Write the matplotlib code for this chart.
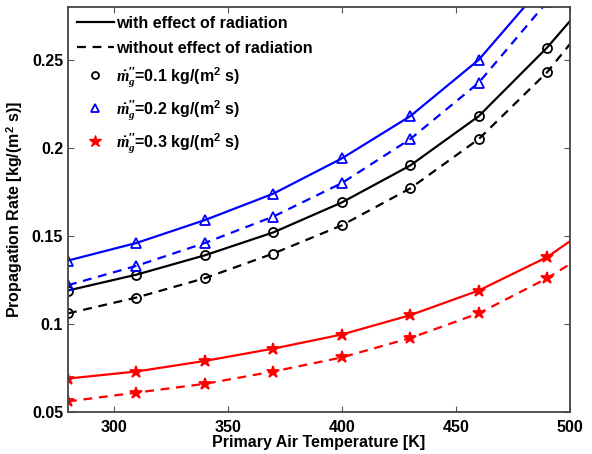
import matplotlib.pyplot as plt
import numpy as np

plt.rcParams['font.family'] = ['Liberation Sans', 'DejaVu Sans']
plt.rcParams['font.weight'] = 'bold'
plt.rcParams['mathtext.fontset'] = 'custom'
plt.rcParams['mathtext.it'] = 'Liberation Serif:italic'
plt.rcParams['mathtext.rm'] = 'Liberation Sans:bold'

temp = [280, 310, 340, 370, 400, 430, 460, 490, 500]

# propagation rate, with / without effect of radiation
black_rad = [0.119, 0.128, 0.139, 0.152, 0.169, 0.190, 0.218, 0.257, 0.272]
black_norad = [0.106, 0.115, 0.126, 0.140, 0.156, 0.177, 0.205, 0.243, 0.259]
blue_rad = [0.136, 0.146, 0.159, 0.174, 0.194, 0.218, 0.250, 0.295, 0.315]
blue_norad = [0.122, 0.133, 0.146, 0.161, 0.180, 0.205, 0.237, 0.283, 0.300]
red_rad = [0.069, 0.073, 0.079, 0.086, 0.094, 0.105, 0.119, 0.138, 0.147]
red_norad = [0.056, 0.061, 0.066, 0.073, 0.081, 0.092, 0.106, 0.126, 0.134]

mlabels = [r'$\dot{m}_g^{\prime\prime}$=0.1 kg/(m$^2$ s)',
           r'$\dot{m}_g^{\prime\prime}$=0.2 kg/(m$^2$ s)',
           r'$\dot{m}_g^{\prime\prime}$=0.3 kg/(m$^2$ s)']

fig = plt.figure(figsize=(5.92, 4.54), dpi=100)
ax = fig.add_axes([68 / 592, 42 / 454, 502 / 592, 405 / 454])

marks = list(range(8))
series = [
    (black_rad, black_norad, 'black', 'o', 'none'),
    (blue_rad, blue_norad, 'blue', '^', 'none'),
    (red_rad, red_norad, 'red', '*', 'red'),
]
for rad, norad, c, m, fc in series:
    ms = 9 if m == '*' else 6.5
    ax.plot(temp, rad, '-', color=c, lw=1.6, marker=m, ms=ms, mfc=fc,
            mec=c, mew=1.3, markevery=marks)
    ax.plot(temp, norad, '--', color=c, lw=1.6, marker=m, ms=ms, mfc=fc,
            mec=c, mew=1.3, markevery=marks, dashes=(4, 3))

h1, = ax.plot([], [], '-', color='black', lw=1.6)
h2, = ax.plot([], [], '--', color='black', lw=1.6, dashes=(4, 3))
h3, = ax.plot([], [], 'o', color='black', mfc='none', ms=5, mew=1.3)
h4, = ax.plot([], [], '^', color='blue', mfc='none', ms=6, mew=1.3)
h5, = ax.plot([], [], '*', color='red', ms=9)
ax.legend([h1, h2, h3, h4, h5],
          ['with effect of radiation', 'without effect of radiation'] + mlabels,
          loc='upper left', frameon=False, fontsize=11.5, handlelength=2.3,
          handletextpad=0.15, labelspacing=0.62, borderaxespad=0.3,
          borderpad=0.25)

ax.set_xlim(280, 500)
ax.set_ylim(0.05, 0.28)
ax.set_xticks([300, 350, 400, 450, 500])
ax.set_yticks([0.05, 0.1, 0.15, 0.2, 0.25])
ax.set_yticklabels(['0.05', '0.1', '0.15', '0.2', '0.25'])
ax.tick_params(labelsize=11.5, direction='in', top=True, right=True,
               length=4, color='#555555')
ax.tick_params(axis='x', pad=6)
for lab in ax.get_xticklabels() + ax.get_yticklabels():
    lab.set_fontweight('bold')
for s in ax.spines.values():
    s.set_color('#444444')
    s.set_linewidth(1.3)

ax.set_xlabel('Primary Air Temperature [K]', fontsize=11.5, fontweight='bold',
              labelpad=0)
ax.set_ylabel(r'Propagation Rate [kg/(m$^2$ s)]', fontsize=11.5,
              fontweight='bold', labelpad=5)

fig.savefig('out.png', dpi=100)
